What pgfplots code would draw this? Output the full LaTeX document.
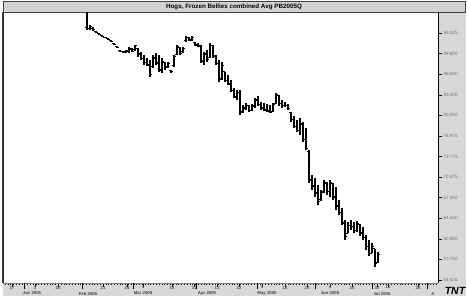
\documentclass[border=0pt]{standalone}
\usepackage{pgfplots}
\pgfplotsset{compat=1.18}
\usepackage{pgfplotstable}
\usepackage{fontspec}
\setmainfont{Liberation Sans}
\definecolor{panel}{HTML}{D8D8D8}
\definecolor{titlegray}{HTML}{D2D2D2}
\definecolor{labgray}{HTML}{707070}
\pgfdeclareplotmark{otick}{\pgfpathmoveto{\pgfpoint{-1.9bp}{0pt}}\pgfpathlineto{\pgfpointorigin}\pgfusepathqstroke}
\pgfdeclareplotmark{ctick}{\pgfpathmoveto{\pgfpointorigin}\pgfpathlineto{\pgfpoint{1.9bp}{0pt}}\pgfusepathqstroke}
\pgfplotstableread{
x high low open close
87 96.30 93.49 93.81 93.65
90 94.27 93.49 93.80 94.00
93 93.96 93.34 93.80 93.50
96 93.34 93.03 93.30 93.10
99 93.03 92.71 93.00 92.80
102 92.71 92.40 92.60 92.45
105 92.40 92.25 92.35 92.30
108 92.25 91.94 92.10 92.00
111 91.94 91.62 91.90 91.70
114 91.47 91.16 91.40 91.20
117 91.00 90.69 90.90 90.75
120 90.38 90.06 90.30 90.15
123 90.22 89.91 90.10 90.00
126 90.38 90.06 90.10 90.30
129 90.84 89.91 90.20 90.60
132 90.69 90.06 90.50 90.20
135 91.16 90.38 90.40 91.00
138 90.69 89.29 90.60 89.60
141 90.06 88.82 89.80 89.00
144 89.60 88.04 89.10 88.40
147 89.13 87.88 88.50 88.10
150 88.82 86.17 88.00 86.60
153 89.60 87.57 87.80 89.10
156 89.91 88.04 89.20 88.40
159 89.60 86.95 88.30 87.20
162 89.13 86.79 87.30 88.60
165 88.51 87.26 88.40 87.60
168 88.51 87.73 87.80 88.30
171 87.26 86.79 87.20 86.95
174 89.60 87.73 87.90 89.30
177 91.16 89.60 89.70 90.90
180 90.69 89.60 90.80 89.90
183 90.84 89.91 90.10 90.60
186 92.56 91.62 91.80 92.40
189 92.40 91.78 92.30 91.90
192 92.56 91.94 92.00 92.40
195 91.62 91.00 91.50 91.10
198 91.47 90.84 91.20 91.00
201 91.16 88.35 90.90 88.80
204 90.06 88.04 88.60 89.70
207 90.38 88.51 89.80 88.90
210 91.47 89.29 89.20 91.10
213 91.16 89.13 91.00 89.50
216 89.60 88.04 89.40 88.30
219 88.82 85.39 88.20 85.80
222 88.51 85.70 85.90 88.00
225 86.95 85.39 87.00 85.60
228 86.48 84.92 85.70 85.10
231 85.70 83.83 85.00 84.00
234 84.45 82.89 84.10 83.20
237 84.14 82.58 83.00 83.80
240 84.14 80.24 83.70 80.70
243 81.80 80.55 80.80 81.40
246 82.11 81.02 81.30 81.80
249 81.80 80.71 81.70 80.90
252 81.96 80.87 81.00 81.60
255 82.89 81.33 81.70 82.60
258 83.20 81.65 82.50 81.90
261 82.27 81.02 81.90 81.30
264 82.11 80.87 81.40 81.10
267 81.96 80.71 81.00 80.90
270 81.80 80.55 80.80 80.70
273 82.11 80.71 80.80 81.90
276 83.67 82.11 82.10 83.40
279 83.36 81.65 83.30 82.00
282 82.58 81.33 82.10 81.70
285 82.27 81.49 81.70 81.80
288 81.96 81.02 81.80 81.20
291 80.71 79.15 80.60 79.50
294 80.09 78.22 79.60 78.50
297 79.46 77.59 78.40 77.80
300 79.77 77.12 77.90 78.90
303 79.15 76.03 78.70 76.50
306 78.22 74.79 76.40 75.10
309 74.79 69.64 74.50 70.20
312 70.96 68.55 70.00 69.20
315 70.49 67.46 69.10 68.00
318 69.33 66.21 68.20 66.80
321 68.55 66.99 67.00 68.20
324 70.18 68.24 68.30 69.70
327 69.80 67.77 69.60 68.30
330 70.18 67.46 68.40 69.80
333 69.33 66.99 69.60 67.40
336 69.02 65.43 67.50 66.00
339 66.99 64.65 66.10 65.00
342 65.75 63.09 65.00 63.50
345 63.87 60.76 63.40 61.30
348 63.55 62.00 61.80 63.00
351 63.87 62.31 63.10 62.80
354 63.55 61.85 62.80 62.30
357 63.72 62.00 62.20 63.30
360 63.25 61.38 63.20 61.80
363 62.78 60.76 61.90 61.20
366 61.53 59.20 61.20 59.70
369 60.76 58.26 59.80 58.60
372 60.29 58.88 58.70 59.80
375 59.20 56.55 59.40 57.10
378 58.88 57.33 57.30 58.50
}\ohlc
\begin{document}
\begin{tikzpicture}[x=1bp,y=1bp]
\path[use as bounding box] (0,0) rectangle (468,299);
\fill[white] (0,0) rectangle (468,299);
\fill[panel] (438,3) rectangle (466,287);
\fill[panel] (3,3) rectangle (466,16);
\filldraw[fill=titlegray, draw=black!75, line width=0.8bp] (3,287) rectangle (465,298);
\node[font=\bfseries\fontsize{6.3}{7}\selectfont] at (234,292.5) {Hogs, Frozen Bellies combined Avg PB2005Q};
\begin{axis}[
  at={(3bp,16bp)}, anchor=south west, scale only axis,
  width=435bp, height=271bp,
  xmin=3, xmax=438, ymin=54.06, ymax=96.30,
  axis x line*=bottom, axis y line*=right,
  x axis line style={draw=black!50, -},
  y axis line style={draw=black, -},
  tick align=outside,
  major tick length=3.5bp, minor tick length=2bp,
  tick style={black, line width=0.5bp},
  ytick={93.025,89.800,86.600,83.400,80.200,76.975,73.775,70.575,67.350,64.150,60.950,57.750,54.525},
  yticklabels={93.025,89.800,86.600,83.400,80.200,76.975,73.775,70.575,67.350,64.150,60.950,57.750,54.525},
  yticklabel style={font=\fontsize{4.6}{5}\selectfont, text=labgray, xshift=-1.5bp},
  minor y tick num=9,
  xtick={12,35,58,103,127,143,172,194,217,239,262,285,307,330,352,377,388,418},
  xticklabels={27,3,20,21,24,4,18,31,13,22,4,16,28,4,20,30,15,26},
  xticklabel style={font=\bfseries\fontsize{4.3}{5}\selectfont, text=black!70, yshift=4bp},
  minor xtick={5,7.8,...,437},
  extra x ticks={24,82,133,196,257,315,372,427},
  extra x tick labels={},
  extra x tick style={major tick length=6bp, tick style={black, line width=0.6bp}},
  clip=false,
]
\addplot[black, line width=1bp, only marks, mark=otick,
  error bars/.cd, y dir=both, y explicit, error mark=none,
  error bar style={black, line width=1.2bp}]
  table[x=x, y=open, y error plus expr=\thisrow{high}-\thisrow{open}, y error minus expr=\thisrow{open}-\thisrow{low}] {\ohlc};
\addplot[black, line width=1bp, only marks, mark=ctick] table[x=x, y=close] {\ohlc};
\foreach \mx/\mn in {32/Jan 2005,88/Feb 2005,143/Mar 2005,207/Apr 2005,267/May 2005,330/Jun 2005,382/Jul 2005}{
  \edef\tmp{\noexpand\node[font=\noexpand\bfseries\noexpand\fontsize{4.3}{5}\noexpand\selectfont, text=black!75] at (axis cs:\mx,54.06) [yshift=-10.5bp] {\mn};}\tmp
}
\end{axis}
\draw[black!80, line width=1.2bp] (3,16) -- (3,287);
\node[font=\bfseries\itshape\fontsize{10.5}{10}\selectfont] at (455,8) {TNT};
\node[font=\fontsize{4}{4}\selectfont] at (433,5) {A};
\end{tikzpicture}
\end{document}
